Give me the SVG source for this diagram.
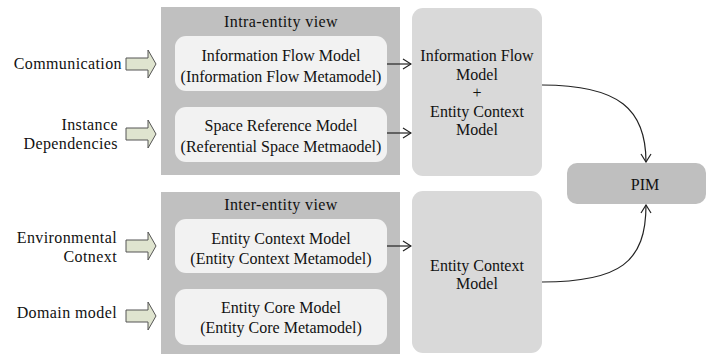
<svg xmlns="http://www.w3.org/2000/svg" width="712" height="356" viewBox="0 0 712 356">
<style>
text{font-family:"Liberation Serif","Times New Roman",serif;font-size:16px;fill:#111}
.c{text-anchor:middle}
.r{text-anchor:end;letter-spacing:0.4px}
.t{text-anchor:middle;letter-spacing:0.4px}
.panel{fill:#c0c0c0}
.inner{fill:#f2f2f2}
.big{fill:#d9d9d9}
.pim{fill:#bfbfbf}
.blk{fill:#dfe4cf;stroke:#555;stroke-width:1}
.con{fill:none;stroke:#222;stroke-width:1.2}
</style>
<defs>
<marker id="ah" markerWidth="10" markerHeight="12" refX="9" refY="6" orient="auto" markerUnits="userSpaceOnUse">
<path d="M1,1 L9,6 L1,11" fill="none" stroke="#222" stroke-width="1.2"/>
</marker>
<path id="blkArrow" d="M0,-6 L22,-6 L22,-14 L30,0 L22,14 L22,6 L0,6 Z"/>
</defs>
<g id="intra-panel">
<rect class="panel" x="161" y="7" width="239" height="168"/>
<text class="t" x="281" y="27">Intra-entity view</text>
</g>
<g id="info-flow-model">
<rect class="inner" x="175" y="36" width="212" height="55" rx="11"/>
<text class="c" x="281" y="61">Information Flow Model</text>
<text class="c" x="281" y="82">(Information Flow Metamodel)</text>
</g>
<g id="space-ref-model">
<rect class="inner" x="175" y="107" width="212" height="55" rx="11"/>
<text class="c" x="281" y="131">Space Reference Model</text>
<text class="c" x="281" y="152">(Referential Space Metmaodel)</text>
</g>
<g id="inter-panel">
<rect class="panel" x="161" y="192" width="239" height="162"/>
<text class="t" x="281" y="210">Inter-entity view</text>
</g>
<g id="entity-context-model">
<rect class="inner" x="175" y="219" width="212" height="54" rx="11"/>
<text class="c" x="281" y="244">Entity Context Model</text>
<text class="c" x="281" y="264">(Entity Context Metamodel)</text>
</g>
<g id="entity-core-model">
<rect class="inner" x="175" y="289" width="212" height="56" rx="11"/>
<text class="c" x="281" y="313">Entity Core Model</text>
<text class="c" x="281" y="333">(Entity Core Metamodel)</text>
</g>
<g id="combined-model">
<rect class="big" x="412" y="8" width="130" height="168" rx="11"/>
<text class="c" x="477" y="61">Information Flow</text>
<text class="c" x="477" y="79.5">Model</text>
<text class="c" x="477" y="98">+</text>
<text class="c" x="477" y="116.5">Entity Context</text>
<text class="c" x="477" y="135">Model</text>
</g>
<g id="entity-context-out">
<rect class="big" x="412" y="191" width="130" height="162" rx="11"/>
<text class="c" x="477" y="271">Entity Context</text>
<text class="c" x="477" y="289">Model</text>
</g>
<g id="pim">
<rect class="pim" x="567" y="163" width="139" height="41" rx="10"/>
<text class="c" x="645" y="190">PIM</text>
</g>
<g id="input-communication">
<text class="r" x="122" y="69">Communication</text>
<use href="#blkArrow" class="blk" x="126" y="64"/>
</g>
<g id="input-instance">
<text class="r" x="118" y="130">Instance</text>
<text class="r" x="118" y="149">Dependencies</text>
<use href="#blkArrow" class="blk" x="126" y="134"/>
</g>
<g id="input-environment">
<text class="r" x="117" y="243">Environmental</text>
<text class="r" x="117" y="262">Cotnext</text>
<use href="#blkArrow" class="blk" x="126" y="246"/>
</g>
<g id="input-domain">
<text class="r" x="117" y="318">Domain model</text>
<use href="#blkArrow" class="blk" x="126" y="316"/>
</g>
<g id="connectors">
<path class="con" d="M387,64 L411,64" marker-end="url(#ah)"/>
<path class="con" d="M387,133 L411,133" marker-end="url(#ah)"/>
<path class="con" d="M387,246 L411,246" marker-end="url(#ah)"/>
<path class="con" d="M542,85 C620,85 646,110 646,162" marker-end="url(#ah)"/>
<path class="con" d="M542,282 C620,282 646,262 646,205" marker-end="url(#ah)"/>
</g>
</svg>
